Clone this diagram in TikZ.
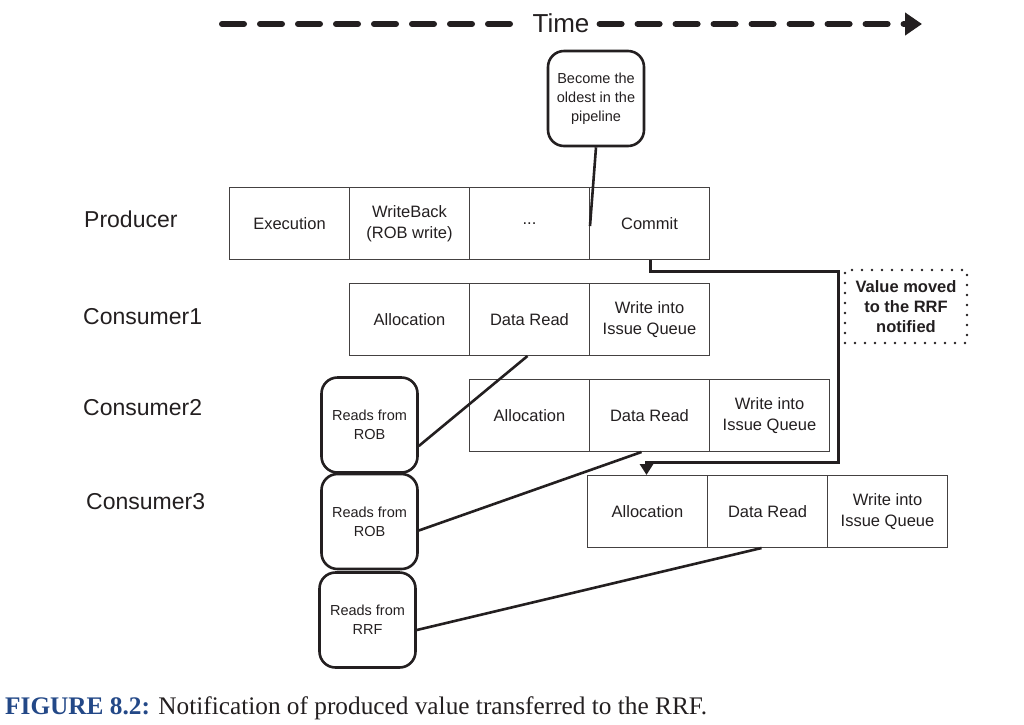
\documentclass[tikz,border=0pt]{standalone}
\usepackage{fontspec}
\setmainfont{Liberation Sans}
\newfontfamily\capfont{Liberation Serif}
\usetikzlibrary{arrows.meta}
\definecolor{ink}{HTML}{231F20}
\definecolor{capblue}{RGB}{35,72,135}
\tikzset{
  cell/.style={draw=ink!85, line width=1pt, minimum width=120pt, minimum height=72pt, inner sep=0pt, anchor=north west, align=center, text=ink, font=\fontsize{16.5}{20.5}\selectfont},
  rowlabel/.style={anchor=west, text=ink, font=\fontsize{23}{27}\selectfont, inner sep=0pt},
  bubble/.style={draw=ink, line width=2.6pt, rounded corners=16pt, minimum width=96pt, minimum height=95pt, inner sep=0pt, align=center, text=ink, font=\fontsize{14.5}{19}\selectfont},
  link/.style={draw=ink, line width=2.6pt},
}
\begin{document}
\begin{tikzpicture}[x=1pt,y=-1pt]
\useasboundingbox (0,0) rectangle (1024,724);
% time arrow
\node[text=ink, font=\fontsize{26}{30}\selectfont, inner sep=0pt] (time) at (561,23) {Time};
\coordinate (tstart) at (222,24);
\coordinate (tend) at (922,24);
\draw[ink, line width=6pt, line cap=round, dash pattern=on 22pt off 16pt] (tstart) -- ([xshift=-12pt]time.west |- tstart);
\draw[ink, line width=6pt, line cap=round, dash pattern=on 22pt off 16pt, -{Triangle[length=17pt,width=22pt]}] ([xshift=10pt]time.east |- tstart) -- (tend);
% row labels
\node[rowlabel] (lp) at (84,219) {Producer};
\node[rowlabel] (lc1) at (83,317) {Consumer1};
\node[rowlabel] (lc2) at (83,408) {Consumer2};
\node[rowlabel] (lc3) at (86,502) {Consumer3};
% producer
\node[cell] (p1) at (229,187) {Execution};
\node[cell] (p2) at (349,187) {WriteBack\\(ROB write)};
\node[cell] (p3) at (469,187) {...};
\node[cell] (p4) at (589,187) {Commit};
% consumer1
\node[cell] (a1) at (349,283) {Allocation};
\node[cell] (a2) at (469,283) {Data Read};
\node[cell] (a3) at (589,283) {Write into\\Issue Queue};
% consumer2
\node[cell] (b1) at (469,379) {Allocation};
\node[cell] (b2) at (589,379) {Data Read};
\node[cell] (b3) at (709,379) {Write into\\Issue Queue};
% consumer3
\node[cell] (c1) at (587,475) {Allocation};
\node[cell] (c2) at (707,475) {Data Read};
\node[cell] (c3) at (827,475) {Write into\\Issue Queue};
% bubbles
\node[bubble] (old) at (596,98.5) {Become the\\oldest in the\\pipeline};
\node[bubble] (r1) at (369.5,425) {Reads from\\ROB};
\node[bubble] (r2) at (369.5,521.5) {Reads from\\ROB};
\node[bubble] (r3) at (367.5,620) {Reads from\\RRF};
% dotted note
\node[draw=ink, line width=2.6pt, dash pattern=on 0pt off 10pt, line cap=round, minimum width=122pt, minimum height=73pt, inner sep=0pt, align=center, text=ink, font=\bfseries\fontsize{16.5}{20}\selectfont] (note) at (906,306.5) {Value moved\\to the RRF\\notified};
% connectors
\coordinate (oldend) at (590,226);
\draw[link] (old.south) -- (oldend);
\draw[link] ([xshift=-2pt]a2.south) -- ([yshift=-21pt]r1.east);
\draw[link] ([xshift=-8pt]b2.south) -- ([yshift=-9pt]r2.east);
\draw[link] ([xshift=-6pt]c2.south) -- ([yshift=-10pt]r3.east);
\draw[ink, line width=3pt, -{Triangle[length=11pt,width=13pt]}] ([xshift=1pt]p4.south) -- ++(0,11) -| (838,462) -| ([xshift=-1pt]c1.north);
% caption
\node[anchor=west, inner sep=0pt, font=\capfont\fontsize{25.3}{29}\selectfont] (cap) at (5,708) {\textcolor{capblue}{\bfseries FIGURE 8.2:} \textcolor{ink}{Notification of produced value transferred to the RRF.}};
\end{tikzpicture}
\end{document}
